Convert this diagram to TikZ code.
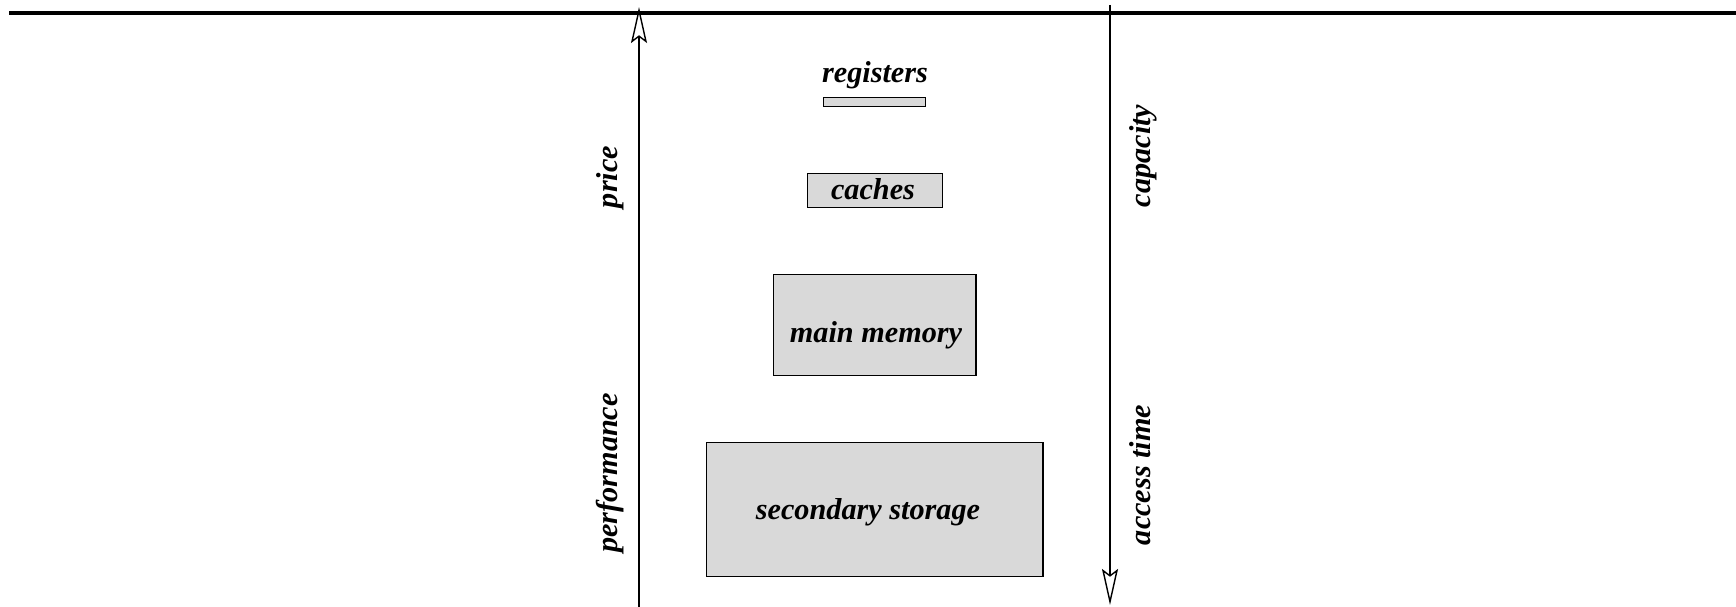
\documentclass[tikz,border=0pt]{standalone}
\usepackage{fontspec}
\setmainfont{Liberation Serif}
\usetikzlibrary{arrows.meta}
\definecolor{BlockClr}{gray}{0.85}

\tikzset{
  memblock/.style={draw=black,line width=0.4pt,fill=BlockClr,inner sep=0pt,anchor=north west},
  lbl/.style={font=\fontsize{8.6}{10}\selectfont\bfseries\itshape,inner sep=0pt,anchor=base},
  axisline/.style={line width=0.4pt,-{Stealth[open,length=3.6mm,width=1.6mm,inset=0.6mm]}}
}

\begin{document}
\begin{tikzpicture}[x=0.01cm,y=-0.01cm]
\useasboundingbox (0,0) rectangle (1736,607);

% Step 1.
\draw[line width=0.04cm] (9,13) -- (1736,13);

\coordinate (P0) at (639,607);
\coordinate (P1) at (639,7);
\coordinate (A0) at (1110,5);
\coordinate (A1) at (1110,605);

\draw[axisline] (P0) -- (P1);
\draw[axisline] (A0) -- (A1);

% Step 2.
\node[memblock,minimum width=1.02cm,minimum height=0.09cm] (reg) at (823,97) {};
\node[memblock,minimum width=1.35cm,minimum height=0.34cm] (cache) at (807,173) {};
\node[memblock,minimum width=2.02cm,minimum height=1.01cm] (mem) at (773,274) {};
\node[memblock,minimum width=3.36cm,minimum height=1.34cm] (disk) at (706,442) {};

% Step 3.
\node[lbl] (regT) at (875,83) {registers};
\node[lbl] (cacheT) at (873,200) {caches};
\node[lbl] (memT) at (876,343) {main memory};
\node[lbl] (diskT) at (868,520) {secondary storage};

% Step 4.
\node[lbl,rotate=90] (price) at (617,177) {price};
\node[lbl,rotate=90] (perf) at (617,473) {performance};
\node[lbl,rotate=90] (cap) at (1150,156) {capacity};
\node[lbl,rotate=90] (acc) at (1150,475) {access time};

\end{tikzpicture}
\end{document}
